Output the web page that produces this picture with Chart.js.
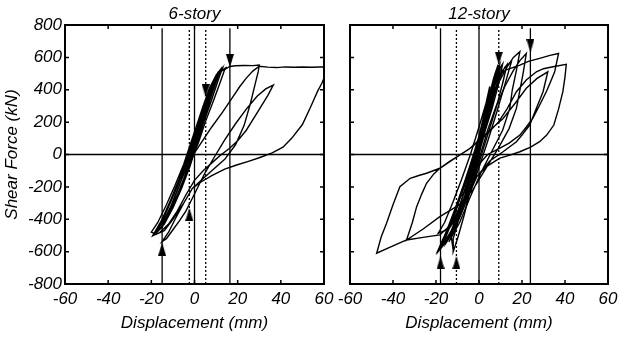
<!doctype html>
<html lang="en">
<head>
<meta charset="utf-8">
<title>Shear force - displacement</title>
<script src="https://cdn.jsdelivr.net/npm/chart.js@4.4.0/dist/chart.umd.min.js"></script>
<style>
  html, body { margin: 0; padding: 0; background: #fff; }
  #wrap { position: relative; width: 618px; height: 338px; }
  #wrap canvas { position: absolute; left: 0; top: 0; }
</style>
</head>
<body>
<div id="wrap">
  <canvas id="sixChart" width="618" height="338"></canvas>
  <canvas id="twelveChart" width="618" height="338"></canvas>
</div>
<script>
// axis ticks
var xTicks = [-60, -40, -20, 0, 20, 40, 60];
var yTicks = [-800, -600, -400, -200, 0, 200, 400, 600, 800];

// 6-story: reference lines (mm) and arrow heads [mm, kN]
var sixSolid = [-15, 0, 16.4];
var sixDotted = [-2.4, 5.2];
var sixDown = [[16.4, 580], [5.2, 393]];
var sixUp = [[-15, -585], [-2.4, -370]];

// 12-story
var twelveSolid = [-17.9, 0, 23.9];
var twelveDotted = [-10.5, 9.2];
var twelveDown = [[9.2, 595], [23.9, 672]];
var twelveUp = [[-17.9, -668], [-10.5, -668]];

var lineTop = 780;

// 6-story small cycles
var sixBand = [
  [-1,0],[2,120],[5,250],[8,380],[9,410],
  [7,330],[4,200],[1,80],[-2,-40],[-5,-150],[-8,-250],[-11,-330],[-12,-350],
  [-10,-290],[-7,-190],[-4,-80],[-1,40],[2,160],[5,290],[8,410],[10,470],
  [8,400],[5,290],[2,160],[-1,30],[-4,-90],[-8,-220],[-11,-320],[-14,-400],[-17,-460],
  [-14,-380],[-10,-260],[-6,-130],[-3,-10],[0,110],[3,240],[6,360],[9,460],[11,510],
  [9,430],[6,310],[3,180],[0,50],[-3,-80],[-7,-220],[-11,-340],[-15,-440],[-18,-480],
  [-15,-410],[-11,-290],[-7,-160],[-4,-40],[-1,80],[2,200],[5,320],[8,430],[11,500],[13,535],
  [11,460],[8,340],[4,190],[1,60],[-2,-70],[-6,-210],[-10,-330],[-14,-430],[-18,-490],[-20,-480],
  [-17,-420],[-13,-310],[-9,-190],[-5,-60],[-2,60],[1,180],[4,300],[7,410],[10,490],[12,525],
  [10,450],[7,330],[4,200],[1,70],[-3,-90],[-7,-230],[-11,-350],[-15,-450],[-19,-495],
  [-16,-430],[-12,-320],[-8,-190],[-5,-70],[-2,50],[1,170],[4,290],[7,400],[10,480],[13,520],[14,525],
  [12,450],[9,340],[5,200],[2,80],[-2,-60],[-6,-190],[-10,-310],[-14,-410],[-18,-470],
  [-15,-400],[-11,-280],[-7,-150],[-3,-20],[0,100],[3,230],[6,350],[9,450],[12,515],[15,540]
];

// 6-story large excursions
var sixLarge = [
  [14,525],[16.4,544],[19,548],[23,550],[27,549],[30,553],
  [29.5,510],[28,430],[26,320],[23,180],[19,60],[14,-30],[8,-100],[3,-160],[-1,-210],[-5,-300],[-10,-400],[-14,-470],[-19,-500],
  [-16,-440],[-12,-320],[-8,-190],[-4,-70],[0,10],[4,90],[8,170],[13,262],[17,340],[21,420],[24,472],[27,515],[30,545],
  [34,540],[38,537],[42,541],[46,539],[50,541],[54,539],[58,541],[62,540],
  [61,505],[59,440],[57,390],[54,300],[50,185],[45,100],[41,45],[36,10],[30,-20],[25,-42],[19.5,-65],[14,-90],[8,-130],[3,-170],[-1,-210],[-5,-300],[-9,-400],[-12,-480],[-15,-538],
  [-13,-520],[-10,-465],[-7,-410],[-4,-350],[-1,-270],[2,-190],[5,-110],[9,-20],[14,90],[19,190],[24,280],[29,360],[33,405],[36.5,429],
  [34,365],[31,300],[28,235],[24,150],[20,85],[16,35],[12,-5],[8.7,-44],[4,-100],[0,-160],[-4,-250],[-8,-350],[-12,-430],[-16,-480]
];

// 12-story small cycles
var twelveBand = [
  [-1,0],[2,200],[5,420],
  [3,300],[1,150],[-2,-30],[-5,-180],[-8,-320],[-11,-440],
  [-8,-330],[-5,-170],[-2,0],[1,170],[4,340],[7,470],[8.9,552],
  [7,430],[4,260],[1,90],[-2,-70],[-6,-250],[-10,-400],[-14,-520],[-15,-540],
  [-12,-440],[-8,-280],[-4,-110],[0,60],[4,250],[8,420],[12,540],[15,570],
  [12,430],[8,250],[4,80],[0,-80],[-4,-230],[-9,-390],[-14,-520],[-19,-600],
  [-16,-500],[-12,-370],[-8,-220],[-4,-60],[0,110],[4,300],[8,480],[10,540],
  [8,420],[5,260],[2,100],[-1,-40],[-5,-210],[-9,-380],[-12,-520],[-12,-600],
  [-10,-520],[-7,-380],[-4,-220],[-1,-60],[2,110],[6,330],[10,500],[13,555],
  [11,440],[8,290],[4,120],[0,-50],[-4,-210],[-9,-360],[-14,-460],[-19,-487],
  [-16,-420],[-12,-290],[-8,-150],[-4,0],[0,170],[4,350],[8,500],[11,560],
  [9,430],[6,280],[2,110],[-2,-60],[-6,-240],[-10,-400],[-14,-510],[-17,-560],
  [-13,-430],[-9,-270],[-5,-110],[-1,60],[3,250],[6,420],[8.9,540],
  [7,400],[4,230],[1,60],[-3,-110],[-7,-280],[-11,-430],[-15,-530],[-18,-575],
  [-14,-450],[-10,-300],[-6,-150],[-2,10],[2,200],[5,380],[7.5,500],[8.9,555],
  [7.5,470],[5,330],[2,160],[-1,0],[-4,-150],[-8,-310],[-12,-450],[-16,-540],[-19,-590],
  [-15,-470],[-11,-330],[-7,-180],[-3,-20],[1,160],[4,330],[7,480],[9.5,550],
  [8,460],[5,300],[1,120],[-3,-60],[-7,-230],[-11,-400],[-13,-500],[-12,-590]
];

// 12-story large excursions
var twelveLarge = [
  [-18,-575],[-13,-420],[-8,-240],[-3,-60],[1,110],[5,290],[9,440],[13,540],[16,600],[19,635],
  [17.4,520],[15.5,400],[14.3,285],[11,150],[6,20],[1,-110],[-4,-260],[-9,-420],[-14,-540],
  [-10,-420],[-5,-230],[0,-30],[4,150],[8,300],[12,420],[16,520],[19,580],[22,624],
  [20.5,500],[17.4,285],[14,160],[9,40],[3,-90],[-3,-220],[-9,-310],[-14,-350],[-18.2,-384],[-26,-460],[-33.7,-528],
  [-31,-420],[-29,-322],[-26.5,-240],[-24.4,-178],[-21,-120],[-18.2,-85],[-14,-45],[-9,-3],[-4,40],[0,90],[5,150],[11.2,223],[17,320],[22,409],[27,470],[32,511],
  [29.8,388],[26.5,280],[23.6,182],[20,120],[17.4,79],[11.2,17],[5,-40],[-1,-137],[-6,-280],[-12,-420],[-18.2,-497],[-26,-512],[-33.7,-528],[-40,-565],[-47.6,-610],
  [-45.5,-510],[-43,-425],[-40,-310],[-36.8,-199],[-32,-147],[-28,-130],[-24.4,-116],[-18.2,-85],[-12,-30],[-8.9,-3],[-5,30],[-1.2,69],[4,130],[9,200],[13,280],[17.4,388],[22,460],[26.7,511],[30,530],[34.4,542],[40.6,557],
  [40,480],[39,388],[37,280],[34.8,182],[31.5,120],[28.2,79],[24,45],[19,17],[14,-5],[9.7,-22],[4,-70],[-1.2,-137],[-5,-230],[-9,-330],[-13,-430],
  [-10,-320],[-6,-150],[-2,10],[2,180],[5,350],[8.9,491],[13,525],[19,552],[23,575],[28.2,594],[33,612],[37,624],
  [35.2,511],[33,440],[31.3,388],[28,300],[25,223],[22,170],[19,120],[14,70],[9.7,40],[4,0],[0,-60],[-4,-160],[-8,-260]
];

var font = { family: "'Liberation Sans', Arial, sans-serif", size: 17, style: 'italic', weight: 'normal' };

function arrowHead(up) {
  var c = document.createElement('canvas');
  c.width = 8; c.height = 13;
  var g = c.getContext('2d');
  g.fillStyle = '#000';
  g.beginPath();
  if (up) { g.moveTo(4, 0); g.lineTo(8, 13); g.lineTo(0, 13); }
  else { g.moveTo(0, 0); g.lineTo(8, 0); g.lineTo(4, 13); }
  g.closePath();
  g.fill();
  return c;
}
var headDown = arrowHead(false);
var headUp = arrowHead(true);

function curve(pts) {
  return { data: pts, borderColor: '#000', borderWidth: 1.4, pointRadius: 0, tension: 0, fill: false };
}
function vline(x, dotted) {
  return { data: [[x, -800], [x, lineTop]], borderColor: '#000', borderWidth: 1.3,
           borderDash: dotted ? [2, 2] : [], pointRadius: 0, fill: false };
}
function heads(pts, img) {
  return { data: pts, showLine: false, pointStyle: img, pointRadius: 6, pointHoverRadius: 6,
           borderColor: '#000', backgroundColor: '#000' };
}

function buildSets(solid, dotted, down, up, curves) {
  var sets = [];
  curves.forEach(function (c) { sets.push(curve(c)); });
  solid.forEach(function (x) { sets.push(vline(x, false)); });
  dotted.forEach(function (x) { sets.push(vline(x, true)); });
  sets.push({ data: [[-60, 0], [60, 0]], borderColor: '#000', borderWidth: 1.6, pointRadius: 0 });
  sets.push(heads(down, headDown));
  sets.push(heads(up, headUp));
  return sets;
}

var frameTicks = {
  id: 'frameTicks',
  afterDatasetsDraw: function (chart) {
    var ctx = chart.ctx, a = chart.chartArea, x = chart.scales.x, y = chart.scales.y;
    ctx.save();
    ctx.strokeStyle = '#000';
    ctx.lineWidth = 1.5;
    ctx.beginPath();
    xTicks.forEach(function (v) {
      var px = x.getPixelForValue(v);
      ctx.moveTo(px, a.top); ctx.lineTo(px, a.top + 4);
      ctx.moveTo(px, a.bottom); ctx.lineTo(px, a.bottom - 4);
    });
    yTicks.forEach(function (v) {
      var py = y.getPixelForValue(v);
      ctx.moveTo(a.left, py); ctx.lineTo(a.left + 4, py);
      ctx.moveTo(a.right, py); ctx.lineTo(a.right - 4, py);
    });
    ctx.stroke();
    ctx.lineWidth = 2;
    ctx.strokeRect(a.left, a.top, a.right - a.left, a.bottom - a.top);
    ctx.restore();
  }
};

function makeChart(id, title, sets, pad, showY) {
  return new Chart(document.getElementById(id).getContext('2d'), {
    type: 'line',
    data: { datasets: sets },
    options: {
      responsive: false,
      animation: false,
      devicePixelRatio: 1,
      events: [],
      layout: { padding: pad },
      plugins: {
        legend: { display: false },
        tooltip: { enabled: false },
        title: { display: true, text: title, fullSize: false, color: '#000', font: font,
                 padding: { top: 4, bottom: 0.6 } }
      },
      scales: {
        x: {
          type: 'linear', min: -60, max: 60,
          afterBuildTicks: function (s) { s.ticks = xTicks.map(function (v) { return { value: v }; }); },
          grid: { display: false, drawTicks: false },
          border: { display: false },
          ticks: { color: '#000', font: font, padding: 5, maxRotation: 0, autoSkip: false },
          title: { display: true, text: 'Displacement (mm)', color: '#000', font: font,
                   padding: { top: 0, bottom: 5 } },
          afterFit: function (s) { s.height = 54; s.paddingLeft = 0; s.paddingRight = 0; }
        },
        y: {
          type: 'linear', min: -800, max: 800, display: showY,
          afterBuildTicks: function (s) { s.ticks = yTicks.map(function (v) { return { value: v }; }); },
          grid: { display: false, drawTicks: false },
          border: { display: false },
          ticks: { color: '#000', font: font, padding: 3, autoSkip: false },
          title: { display: true, text: 'Shear Force (kN)', color: '#000', font: font,
                   padding: { top: 2, bottom: 0 } },
          afterFit: function (s) { s.width = showY ? 65 : 0; s.paddingTop = 0; s.paddingBottom = 0; }
        }
      }
    },
    plugins: [frameTicks]
  });
}

makeChart('sixChart', '6-story',
  buildSets(sixSolid, sixDotted, sixDown, sixUp, [sixBand, sixLarge]),
  { left: 0, top: 0, right: 294, bottom: 0 }, true);

makeChart('twelveChart', '12-story',
  buildSets(twelveSolid, twelveDotted, twelveDown, twelveUp, [twelveBand, twelveLarge]),
  { left: 350, top: 0, right: 10, bottom: 0 }, false);
</script>
</body>
</html>
